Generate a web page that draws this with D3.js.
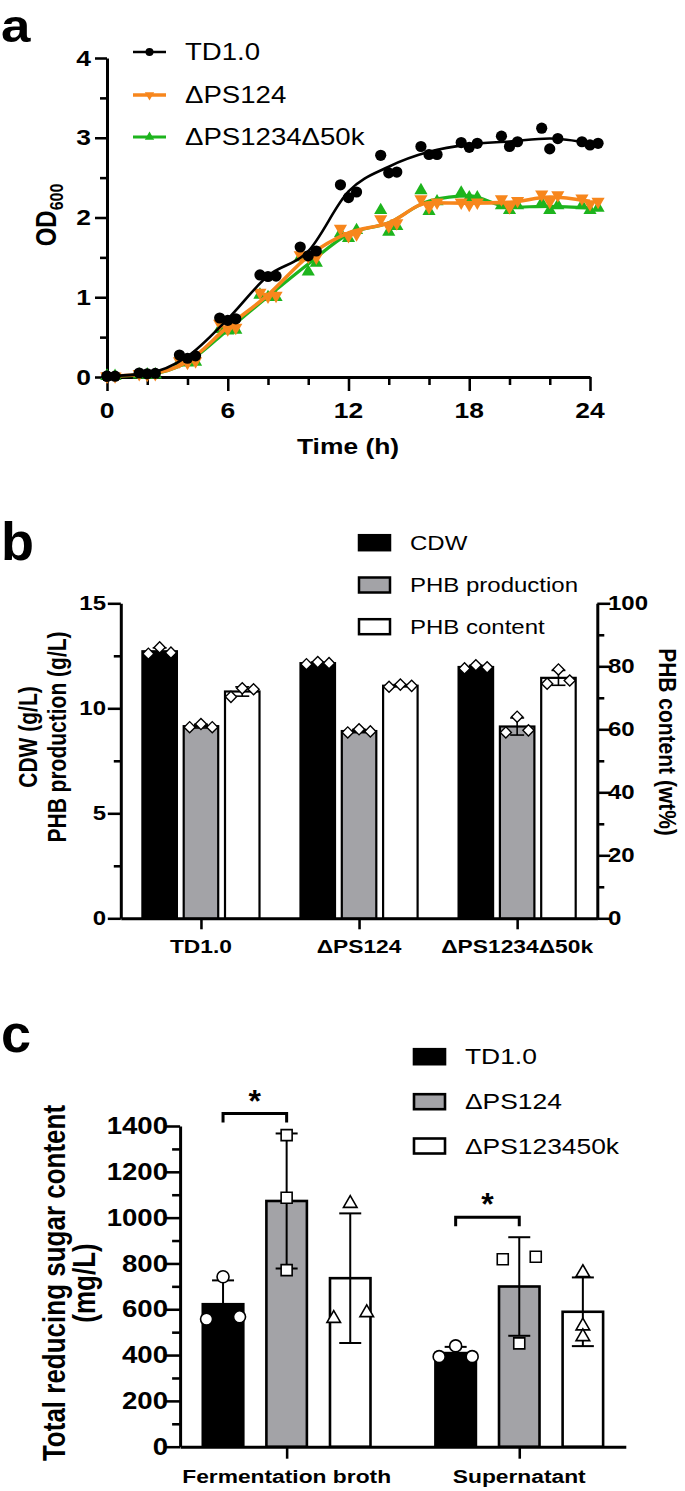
<!DOCTYPE html>
<html><head><meta charset="utf-8">
<script src="https://cdn.jsdelivr.net/npm/d3@7"></script>
<style>html,body{margin:0;padding:0;background:#fff}</style>
</head><body>
<svg id="fig" width="685" height="1491"></svg>
<script>
// ---------- Panel a : growth curves (OD600) ----------
const timePoints = [0, 2, 4, 6, 8, 10, 12, 14, 16, 18, 20, 22, 24];
const replicateShift = [-0.4, 0, 0.4];
const odTD10 = [[0.01,0.01,0.01],[0.05,0.04,0.045],[0.275,0.235,0.265],[0.74,0.71,0.73],[1.28,1.26,1.265],[1.63,1.52,1.58],[2.41,2.25,2.32],[2.78,2.56,2.57],[2.89,2.79,2.79],[2.94,2.88,2.93],[3.02,2.89,2.95],[3.12,2.86,2.99],[2.95,2.91,2.93]];
const odPS124 = [[0.01,0.01,0.01],[0.04,0.03,0.04],[0.2,0.18,0.2],[0.67,0.6,0.62],[1.06,1.01,1.02],[1.53,1.51,1.5],[1.86,1.77,1.79],[1.98,1.89,1.93],[2.23,2.13,2.19],[2.19,2.16,2.19],[2.23,2.13,2.21],[2.29,2.2,2.28],[2.24,2.17,2.2]];
const odPS1234d50k = [[0.01,0.01,0.01],[0.03,0.03,0.03],[0.19,0.18,0.19],[0.6,0.58,0.59],[1.03,1.0,1.0],[1.5,1.32,1.43],[1.8,1.74,1.84],[2.09,1.82,1.89],[2.34,2.08,2.2],[2.31,2.25,2.25],[2.15,2.09,2.15],[2.18,2.09,2.15],[2.15,2.09,2.12]];
const growthNames = ["TD1.0", "ΔPS124", "ΔPS1234Δ50k"];
const odTicks = [0, 1, 2, 3, 4];
const timeTicks = [0, 6, 12, 18, 24];

// ---------- Panel b : CDW / PHB ----------
const strainsB = ["TD1.0", "ΔPS124", "ΔPS1234Δ50k"];
const measuresB = ["CDW", "PHB production", "PHB content"];
const cdwReps = [[12.6, 12.9, 12.65], [12.1, 12.2, 12.15], [11.9, 12.05, 11.95]];
const phbProdReps = [[9.1, 9.25, 9.1], [8.85, 9.0, 8.9], [8.85, 9.6, 8.95]];
const phbContentReps = [[70.3, 73.0, 72.7], [73.5, 74.2, 73.8], [74.5, 79.0, 75.5]];
const leftTicksB = [0, 5, 10, 15];
const rightTicksB = [0, 20, 40, 60, 80, 100];

// ---------- Panel c : reducing sugar ----------
const fractionsC = ["Fermentation broth", "Supernatant"];
const strainsC = ["TD1.0", "ΔPS124", "ΔPS123450k"];
const sugarTD10 = [[742, 557, 567], [440, 393, 393]];
const sugarPS124 = [[1360, 1087, 771], [818, 829, 451]];
const sugarPS123450k = [[1062, 560, 585], [760, 527, 480]];
const sugarTicks = [0, 200, 400, 600, 800, 1000, 1200, 1400];
const significantPairs = [["Fermentation broth", "*"], ["Supernatant", "*"]];

// ---------- helpers ----------
const FONT = "'Liberation Sans', Arial, Helvetica, sans-serif";
const SX = 1.2;
const svg = d3.select("#fig");
const GRAY = "#A3A3A7";

function T(g, x, y, str, size, weight, anchor, sx = SX, dy = "0.35em") {
  return g.append("text")
    .attr("transform", `translate(${x},${y}) scale(${sx},1)`)
    .attr("text-anchor", anchor).attr("dy", dy)
    .style("font-family", FONT).style("font-size", size + "px")
    .style("font-weight", weight).attr("fill", "#000").text(str);
}
function TR(g, x, y, str, size, weight, angle, sy = SX) {
  return g.append("text")
    .attr("transform", `translate(${x},${y}) rotate(${angle}) scale(1,${sy})`)
    .attr("text-anchor", "middle").attr("dy", "0.35em")
    .style("font-family", FONT).style("font-size", size + "px")
    .style("font-weight", weight).attr("fill", "#000").text(str);
}
function styleAxis(sel, w) {
  sel.selectAll(".domain").attr("stroke", "#000").attr("stroke-width", w);
  sel.selectAll(".tick line").attr("stroke", "#000").attr("stroke-width", w * 0.85);
}
function mean(a) { return d3.mean(a); }
function sd(a) { return d3.deviation(a); }
function dodge(vals, y, d, thr) {
  const pts = vals.map((v, i) => ({ v, i, py: y(v) })).sort((a, b) => a.py - b.py);
  const clusters = []; let cur = [pts[0]];
  for (let k = 1; k < pts.length; k++) {
    if (pts[k].py - pts[k - 1].py < thr) cur.push(pts[k]); else { clusters.push(cur); cur = [pts[k]]; }
  }
  clusters.push(cur);
  const off = new Array(vals.length).fill(0);
  clusters.forEach(c => {
    const s = c.slice().sort((a, b) => a.i - b.i), n = s.length;
    s.forEach((p, j) => { off[p.i] = n === 1 ? 0 : (j - (n - 1) / 2) * d * (n === 2 ? 2 : 1); });
  });
  return off;
}

// =================== PANEL A ===================
{
  const g = svg.append("g");
  T(g, 1, 42, "a", 46, "bold", "start", 1.15, "0");
  const x = d3.scaleLinear().domain([0, 24]).range([107, 590]);
  const y = d3.scaleLinear().domain([0, 4]).range([377, 58]);

  const ax1 = g.append("g").attr("transform", "translate(107,0)")
    .call(d3.axisLeft(y).tickValues(odTicks).tickSize(12).tickSizeOuter(0).tickFormat(""));
  const ax2 = g.append("g").attr("transform", "translate(107,0)")
    .call(d3.axisLeft(y).tickValues(d3.range(0.5, 4, 1)).tickSize(7).tickSizeOuter(0).tickFormat(""));
  ax2.select(".domain").remove();
  const bx1 = g.append("g").attr("transform", "translate(0,377)")
    .call(d3.axisBottom(x).tickValues(timeTicks).tickSize(14).tickSizeOuter(0).tickFormat(""));
  const bx2 = g.append("g").attr("transform", "translate(0,377)")
    .call(d3.axisBottom(x).tickValues(d3.range(2, 24, 2).filter(v => v % 6 !== 0)).tickSize(8).tickSizeOuter(0).tickFormat(""));
  bx2.select(".domain").remove();
  [ax1, ax2, bx1, bx2].forEach(a => styleAxis(a, 3));

  odTicks.forEach(v => T(g, 91, y(v), String(v), 22, "bold", "end"));
  timeTicks.forEach(v => T(g, x(v), 410, String(v), 22, "bold", "middle"));
  T(g, 348, 446, "Time (h)", 22, "bold", "middle");
  const od = g.append("text")
    .attr("transform", `translate(46,215) rotate(-90) scale(1,${SX})`)
    .attr("text-anchor", "middle").attr("dy", "0.35em")
    .style("font-family", FONT).style("font-weight", "bold").style("font-size", "24px");
  od.append("tspan").text("OD");
  od.append("tspan").attr("dy", "6").style("font-size", "16px").text("600");

  const colors = ["#000000", "#F7861C", "#1DB41D"];
  const widths = [2.6, 3.6, 3.2];
  const seriesData = [odTD10, odPS124, odPS1234d50k];
  const sym = [
    (s) => s.append("circle").attr("r", 5.6),
    (s) => s.append("path").attr("d", d3.symbol(d3.symbolTriangle, 75)()).attr("transform", "rotate(180)"),
    (s) => s.append("path").attr("d", d3.symbol(d3.symbolTriangle, 75)())
  ];
  const order = [2, 1, 0];
  order.forEach(si => {
    const reps = seriesData[si];
    const means = reps.map(r => mean(r));
    const lg = g.append("g");
    lg.append("path").datum(means)
      .attr("d", d3.line().x((d, i) => x(timePoints[i])).y(d => y(d)).curve(d3.curveMonotoneX))
      .attr("fill", "none").attr("stroke", colors[si]).attr("stroke-width", widths[si]).attr("stroke-linejoin", "round");
    reps.forEach((r, ti) => r.forEach((v, ri) => {
      const tt = Math.max(0, timePoints[ti] + replicateShift[ri]);
      const m = lg.append("g").attr("transform", `translate(${x(tt)},${y(v)})`);
      sym[si](m).attr("fill", colors[si]);
    }));
  });
  // legend
  const legY = [52, 95, 137];
  growthNames.forEach((n, i) => {
    g.append("line").attr("x1", 133).attr("x2", 166).attr("y1", legY[i]).attr("y2", legY[i])
      .attr("stroke", colors[i]).attr("stroke-width", widths[i]);
    const m = g.append("g").attr("transform", `translate(149.5,${legY[i]})`);
    if (i === 0) m.append("circle").attr("r", 4).attr("fill", colors[i]);
    else m.append("path").attr("d", d3.symbol(d3.symbolTriangle, 38)()).attr("fill", colors[i])
      .attr("transform", i === 1 ? "rotate(180)" : null);
    T(g, 185, legY[i], n, 23, "normal", "start");
  });
}

// =================== PANEL B ===================
{
  const g = svg.append("g");
  T(g, 1, 560, "b", 54, "bold", "start", 1, "0");
  const yL = d3.scaleLinear().domain([0, 15]).range([918.3, 603.3]);
  const yR = d3.scaleLinear().domain([0, 100]).range([918.3, 603.3]);
  const xg = d3.scalePoint().domain(strainsB).range([120.8, 597.3]).padding(0.507);
  const inner = d3.scalePoint().domain(measuresB).range([-41.3, 41.3]);
  const bw = 34.5;

  const l1 = g.append("g").attr("transform", "translate(120.8,0)")
    .call(d3.axisLeft(yL).tickValues(leftTicksB).tickSize(13).tickSizeOuter(0).tickFormat(""));
  const l2 = g.append("g").attr("transform", "translate(120.8,0)")
    .call(d3.axisLeft(yL).tickValues([2.5, 7.5, 12.5]).tickSize(7).tickSizeOuter(0).tickFormat(""));
  l2.select(".domain").remove();
  const r1 = g.append("g").attr("transform", "translate(597.3,0)")
    .call(d3.axisRight(yR).tickValues(rightTicksB).tickSize(13).tickSizeOuter(0).tickFormat(""));
  const r2 = g.append("g").attr("transform", "translate(597.3,0)")
    .call(d3.axisRight(yR).tickValues([10, 30, 50, 70, 90]).tickSize(7).tickSizeOuter(0).tickFormat(""));
  r2.select(".domain").remove();
  const bx = g.append("g").attr("transform", "translate(0,918.3)")
    .call(d3.axisBottom(xg).tickSize(11).tickSizeOuter(0).tickFormat(""));
  [l1, l2, r1, r2, bx].forEach(a => styleAxis(a, 3));

  leftTicksB.forEach(v => T(g, 106, yL(v), String(v), 20, "bold", "end"));
  rightTicksB.forEach(v => T(g, 608, yR(v), String(v), 20, "bold", "start"));
  strainsB.forEach(s => T(g, xg(s), 946, s, 19, "bold", "middle"));

  TR(g, 28.5, 737, "CDW (g/L)", 21, "bold", -90);
  TR(g, 57, 737, "PHB production (g/L)", 21, "bold", -90);
  TR(g, 667, 742, "PHB content (wt%)", 21, "bold", 90, 1.1);

  const fills = ["#000000", GRAY, "#FFFFFF"];
  const reps = [cdwReps, phbProdReps, phbContentReps];
  const scales = [yL, yL, yR];
  strainsB.forEach((s, si) => {
    measuresB.forEach((m, mi) => {
      const vals = reps[mi][si], ys = scales[mi];
      const cx = xg(s) + inner(m), mu = mean(vals), e = sd(vals);
      g.append("rect").attr("x", cx - bw / 2).attr("y", ys(mu)).attr("width", bw)
        .attr("height", ys(0) - ys(mu)).attr("fill", fills[mi]).attr("stroke", "#000").attr("stroke-width", 2.2);
      const eg = g.append("g").attr("stroke", "#000").attr("stroke-width", 1.6);
      eg.append("line").attr("x1", cx).attr("x2", cx).attr("y1", ys(mu - e)).attr("y2", ys(mu + e));
      [mu - e, mu + e].forEach(v => eg.append("line").attr("x1", cx - 7).attr("x2", cx + 7).attr("y1", ys(v)).attr("y2", ys(v)));
      const off = dodge(vals, ys, 11.3, 10);
      vals.forEach((v, i) => {
        g.append("path").attr("d", d3.symbol(d3.symbolSquare, 62)())
          .attr("transform", `translate(${cx + off[i]},${ys(v)}) rotate(45)`)
          .attr("fill", "#fff").attr("stroke", "#000").attr("stroke-width", 1.4);
      });
    });
  });
  // legend
  const ly = [542.7, 585, 626.7];
  measuresB.forEach((m, i) => {
    g.append("rect").attr("x", 359).attr("y", ly[i] - 7.5).attr("width", 31).attr("height", 15)
      .attr("fill", fills[i]).attr("stroke", "#000").attr("stroke-width", 2.5);
    T(g, 410, ly[i], m, 20, "normal", "start");
  });
}

// =================== PANEL C ===================
{
  const g = svg.append("g");
  T(g, 1, 1052, "c", 54, "bold", "start", 1, "0");
  const y = d3.scaleLinear().domain([0, 1400]).range([1446.7, 1126]);
  const xg = d3.scalePoint().domain(fractionsC).range([180.1, 625.8]).padding(0.458);
  const inner = d3.scalePoint().domain(strainsC).range([-63.6, 63.6]);
  const bw = 40.5;

  const a1 = g.append("g").attr("transform", "translate(180.1,0)")
    .call(d3.axisLeft(y).tickValues(sugarTicks).tickSize(15).tickSizeOuter(0).tickFormat(""));
  const a2 = g.append("g").attr("transform", "translate(180.1,0)")
    .call(d3.axisLeft(y).tickValues(d3.range(100, 1400, 200)).tickSize(8).tickSizeOuter(0).tickFormat(""));
  a2.select(".domain").remove();
  const bx = g.append("g").attr("transform", "translate(0,1446.7)")
    .call(d3.axisBottom(xg).tickSize(12).tickSizeOuter(0).tickFormat(""));
  [a1, a2, bx].forEach(a => styleAxis(a, 3));

  sugarTicks.forEach(v => T(g, 168, y(v), String(v), 23, "bold", "end"));
  fractionsC.forEach(f => T(g, xg(f), 1476, f, 19, "bold", "middle"));
  TR(g, 54, 1283, "Total reducing sugar content", 26, "bold", -90);
  TR(g, 84, 1283, "(mg/L)", 26, "bold", -90);

  const fills = ["#000000", GRAY, "#FFFFFF"];
  const reps = [sugarTD10, sugarPS124, sugarPS123450k];
  const shapes = [
    (s) => s.append("circle").attr("r", 6),
    (s) => s.append("path").attr("d", d3.symbol(d3.symbolSquare, 121)()),
    (s) => s.append("path").attr("d", d3.symbol(d3.symbolTriangle, 80)())
  ];
  const tops = {};
  fractionsC.forEach((f, fi) => {
    strainsC.forEach((s, si) => {
      const vals = reps[si][fi];
      const cx = xg(f) + inner(s), mu = mean(vals), e = sd(vals);
      tops[f + si] = d3.max([mu + e, ...vals]);
      g.append("rect").attr("x", cx - bw / 2).attr("y", y(mu)).attr("width", bw)
        .attr("height", y(0) - y(mu)).attr("fill", fills[si]).attr("stroke", "#000").attr("stroke-width", 2.6);
      const eg = g.append("g").attr("stroke", "#000").attr("stroke-width", 2);
      eg.append("line").attr("x1", cx).attr("x2", cx).attr("y1", y(mu - e)).attr("y2", y(mu + e));
      [mu - e, mu + e].forEach(v => eg.append("line").attr("x1", cx - 11).attr("x2", cx + 11).attr("y1", y(v)).attr("y2", y(v)));
      const off = dodge(vals, y, 16.5, 10);
      vals.forEach((v, i) => {
        const m = g.append("g").attr("transform", `translate(${cx + off[i]},${y(v)})`);
        shapes[si](m).attr("fill", "#fff").attr("stroke", "#000").attr("stroke-width", 1.6);
      });
    });
  });
  // significance brackets
  significantPairs.forEach(([f, star]) => {
    const x1 = xg(f) + inner(strainsC[0]), x2 = xg(f) + inner(strainsC[1]);
    const yb = y(Math.max(tops[f + 0], tops[f + 1])) - 20;
    g.append("path").attr("d", `M${x1},${yb + 9}V${yb}H${x2}V${yb + 9}`)
      .attr("fill", "none").attr("stroke", "#000").attr("stroke-width", 3);
    T(g, (x1 + x2) / 2, yb - 13, star, 32, "bold", "middle", 1);
  });
  // legend
  const ly = [1056.7, 1101.7, 1146];
  strainsC.forEach((s, i) => {
    g.append("rect").attr("x", 414).attr("y", ly[i] - 7.5).attr("width", 31).attr("height", 15)
      .attr("fill", fills[i]).attr("stroke", "#000").attr("stroke-width", 2.6);
    T(g, 465, ly[i], s, 22, "normal", "start");
  });
}
</script>
</body></html>
